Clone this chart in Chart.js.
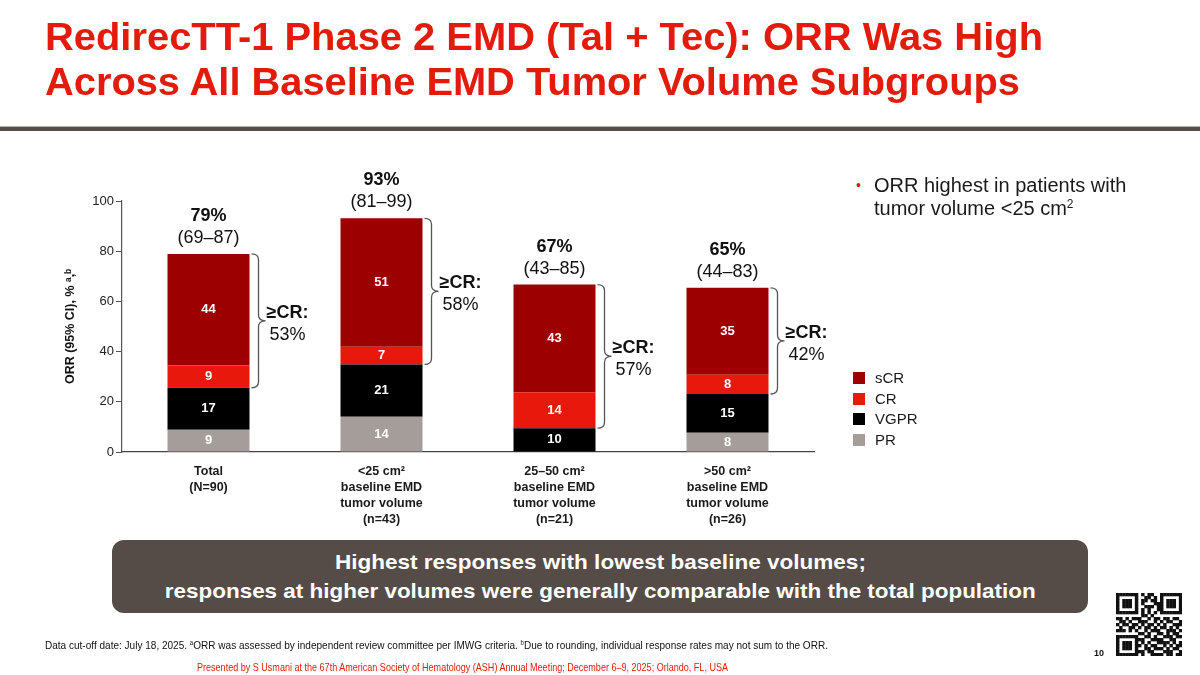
<!DOCTYPE html>
<html>
<head>
<meta charset="utf-8">
<script src="https://cdn.jsdelivr.net/npm/chart.js@4.4.1/dist/chart.umd.min.js"></script>
<style>
  html, body { margin: 0; padding: 0; background: #fff; }
  body { width: 1200px; height: 675px; position: relative; overflow: hidden; font-family: "Liberation Sans", Arial, sans-serif; }
  #wrap { position: absolute; left: 0; top: 0; width: 1200px; height: 675px; }
  .abs { position: absolute; white-space: nowrap; }
  .fit { display: inline-block; transform-origin: left center; }
  #title { left: 45px; top: 14px; color: #e31b0c; font-weight: bold; font-size: 39px; line-height: 45px; }
  #title div { height: 45px; }
  #rule { left: 0; top: 126px; width: 1200px; height: 1px; background: #b9b4b1; }
  #rule2 { left: 0; top: 127px; width: 1200px; height: 4px; background: #564e4a; }
  #bullet { left: 856px; top: 174px; font-size: 20px; line-height: 23px; color: #1a1a1a; }
  #bullet .dot { position: absolute; left: 0; top: 0; color: #e31b0c; font-size: 14px; }
  #bullet .txt { margin-left: 18px; }
  sup { font-size: 60%; line-height: 0; vertical-align: 0.6em; }
  #legend { left: 853px; top: 368px; font-size: 15px; color: #1a1a1a; }
  #legend .row { height: 20.5px; line-height: 20.5px; position: relative; }
  #legend .sw { position: absolute; left: 0; top: 4px; width: 12px; height: 12px; }
  #legend .lab { margin-left: 22px; }
  #banner { left: 112px; top: 540px; width: 976px; height: 73px; border-radius: 12px; background: #554b47; color: #fff; font-weight: bold; font-size: 21px; line-height: 29px; text-align: center; }
  #banner .l1 { margin-top: 7px; }
  #banner .fit { transform-origin: center center; }
  #foot { left: 45px; top: 638px; font-size: 11px; line-height: 14px; color: #111; }
  #pres { left: 197px; top: 660px; font-size: 11px; line-height: 14px; color: #e31b0c; }
  #page { left: 1094px; top: 647px; font-size: 9px; font-weight: bold; line-height: 12px; color: #111; }
  #qr { left: 1116px; top: 593px; }
</style>
</head>
<body>
<div id="wrap"><canvas id="myChart" width="1200" height="675"></canvas></div>

<div id="title" class="abs">
  <div><span class="fit" data-w="998">RedirecTT-1 Phase 2 EMD (Tal + Tec): ORR Was High</span></div>
  <div><span class="fit" data-w="975">Across All Baseline EMD Tumor Volume Subgroups</span></div>
</div>
<div id="rule" class="abs"></div>
<div id="rule2" class="abs"></div>

<div id="bullet" class="abs">
  <span class="dot">•</span>
  <div class="txt">ORR highest in patients with</div>
  <div class="txt">tumor volume &lt;25 cm<sup>2</sup></div>
</div>

<div id="legend" class="abs"></div>

<div id="banner" class="abs">
  <div class="l1"><span class="fit" data-w="531">Highest responses with lowest baseline volumes;</span></div>
  <div><span class="fit" data-w="871">responses at higher volumes were generally comparable with the total population</span></div>
</div>

<div id="foot" class="abs"><span class="fit" data-w="783">Data cut-off date: July 18, 2025. <sup>a</sup>ORR was assessed by independent review committee per IMWG criteria. <sup>b</sup>Due to rounding, individual response rates may not sum to the ORR.</span></div>
<div id="pres" class="abs"><span class="fit" data-w="531">Presented by S Usmani at the 67th American Society of Hematology (ASH) Annual Meeting; December 6–9, 2025; Orlando, FL, USA</span></div>
<div id="page" class="abs">10</div>
<canvas id="qr" class="abs" width="66" height="63"></canvas>

<script>
// Data
const categories = [
  ['Total', '(N=90)'],
  ['<25 cm²', 'baseline EMD', 'tumor volume', '(n=43)'],
  ['25–50 cm²', 'baseline EMD', 'tumor volume', '(n=21)'],
  ['>50 cm²', 'baseline EMD', 'tumor volume', '(n=26)']
]
const prVals = [8.9, 14.0, null, 7.7]
const vgprVals = [16.7, 20.9, 9.5, 15.4]
const crVals = [8.9, 7.0, 14.3, 7.7]
const scrVals = [44.4, 51.2, 42.9, 34.6]
const orrPct = [79, 93, 67, 65]
const ciLow = [69, 81, 43, 44]
const ciHigh = [87, 99, 85, 83]
const geCrPct = [53, 58, 57, 42]
const yTicks = [0, 20, 40, 60, 80, 100]

const FONT = '"Liberation Sans", Arial, sans-serif'

// in-bar numbers, totals above bars, braces with >=CR
const annotations = {
  id: 'annotations',
  afterDatasetsDraw (chart) {
    const ctx = chart.ctx
    ctx.save()
    ctx.textAlign = 'center'
    ctx.textBaseline = 'middle'

    // segment labels
    ctx.fillStyle = '#fff'
    ctx.font = 'bold 13px ' + FONT
    chart.data.datasets.forEach((ds, d) => {
      chart.getDatasetMeta(d).data.forEach((bar, i) => {
        const v = ds.data[i]
        if (!v) return
        ctx.fillText(Math.round(v), bar.x, (bar.y + bar.base) / 2)
      })
    })

    const top = chart.getDatasetMeta(3).data
    const cr = chart.getDatasetMeta(2).data
    categories.forEach((c, i) => {
      const bar = top[i]
      ctx.fillStyle = '#111'
      ctx.font = 'bold 18px ' + FONT
      ctx.fillText(orrPct[i] + '%', bar.x, bar.y - 38)
      ctx.font = '18px ' + FONT
      ctx.fillText('(' + ciLow[i] + '–' + ciHigh[i] + ')', bar.x, bar.y - 16)

      // brace
      const x0 = bar.x + bar.width / 2 + 2
      const xm = x0 + 7
      const x1 = x0 + 14
      const y0 = bar.y
      const y1 = cr[i].base
      const ym = (y0 + y1) / 2
      const r = 6
      ctx.beginPath()
      ctx.moveTo(x0, y0)
      ctx.quadraticCurveTo(xm, y0, xm, y0 + r)
      ctx.lineTo(xm, ym - r)
      ctx.quadraticCurveTo(xm, ym, x1, ym)
      ctx.quadraticCurveTo(xm, ym, xm, ym + r)
      ctx.lineTo(xm, y1 - r)
      ctx.quadraticCurveTo(xm, y1, x0, y1)
      ctx.strokeStyle = '#555'
      ctx.lineWidth = 1.3
      ctx.stroke()

      const tx = bar.x + bar.width / 2 + 38
      ctx.fillStyle = '#111'
      ctx.font = 'bold 18px ' + FONT
      ctx.fillText('≥CR:', tx, ym - 8)
      ctx.font = '18px ' + FONT
      ctx.fillText(geCrPct[i] + '%', tx, ym + 14)
    })
    ctx.restore()
  }
}

const ctx = document.getElementById('myChart')
// eslint-disable-next-line no-unused-vars
const myChart = new Chart(ctx, {
  type: 'bar',
  data: {
    labels: categories,
    datasets: [
      { label: 'PR', data: prVals, backgroundColor: '#a59d99' },
      { label: 'VGPR', data: vgprVals, backgroundColor: '#000000' },
      { label: 'CR', data: crVals, backgroundColor: '#e8190c' },
      { label: 'sCR', data: scrVals, backgroundColor: '#9c0000' }
    ]
  },
  options: {
    responsive: false,
    animation: false,
    layout: {
      padding: { left: 58, right: 386, top: 201, bottom: 133 }
    },
    datasets: {
      bar: { barPercentage: 0.474, categoryPercentage: 1, borderWidth: 0 }
    },
    scales: {
      x: {
        stacked: true,
        grid: { display: false, drawTicks: false },
        border: { display: true, color: '#444', width: 1.2 },
        ticks: {
          color: '#1a1a1a',
          padding: 11,
          maxRotation: 0,
          autoSkip: false,
          font: { family: FONT, size: 12.5, weight: 'bold', lineHeight: 1.3 }
        },
        afterFit (scale) { scale.height = 90 }
      },
      y: {
        stacked: true,
        min: 0,
        max: 100,
        afterBuildTicks (scale) { scale.ticks = yTicks.map(v => ({ value: v })) },
        grid: { drawOnChartArea: false, drawTicks: true, tickLength: 6, color: '#555' },
        border: { display: true, color: '#555', width: 1.2 },
        ticks: {
          color: '#222',
          padding: 2,
          font: { family: FONT, size: 13 }
        },
        title: {
          display: true,
          text: 'ORR (95% CI), % ᵃ,ᵇ',
          color: '#111',
          padding: { top: 5, bottom: 2 },
          font: { family: FONT, size: 12.5, weight: 'bold' }
        },
        afterFit (scale) { scale.width = 64 }
      }
    },
    plugins: {
      legend: { display: false },
      tooltip: { enabled: false }
    }
  },
  plugins: [annotations]
})

// legend, top to bottom sCR, CR, VGPR, PR
const legend = document.getElementById('legend')
myChart.data.datasets.slice().reverse().forEach(ds => {
  const row = document.createElement('div')
  row.className = 'row'
  row.innerHTML = '<span class="sw" style="background:' + ds.backgroundColor + '"></span><span class="lab">' + ds.label + '</span>'
  legend.appendChild(row)
})

// squeeze text to the widths of the slide
document.querySelectorAll('.fit').forEach(el => {
  const w = el.getBoundingClientRect().width
  const target = parseFloat(el.dataset.w)
  if (w > 0) el.style.transform = 'scaleX(' + (target / w).toFixed(4) + ')'
})

// QR code block
const qrRows = [
  '111111101011001111111',
  '100000100110101000001',
  '101110101101101011101',
  '101110101000111011101',
  '101110100111011011101',
  '100000101010011000001',
  '111111101010101111111',
  '000000001101000000000',
  '110101110010110110110',
  '011010011100101011001',
  '101101101011010100111',
  '010011010110101101010',
  '111010100101110011101',
  '000000011010011010110',
  '111111100110100111011',
  '100000111001111001100',
  '101110101010011110101',
  '101110110101100101011',
  '101110100110111010110',
  '100000111011000111001',
  '111111101001111011011'
]
const qr = document.getElementById('qr').getContext('2d')
const cw = 66 / 21
const ch = 63 / 21
qr.fillStyle = '#111'
qrRows.forEach((row, r) => {
  for (let c = 0; c < row.length; c++) {
    if (row[c] === '1') qr.fillRect(c * cw, r * ch, cw + 0.3, ch + 0.3)
  }
})
</script>
</body>
</html>
